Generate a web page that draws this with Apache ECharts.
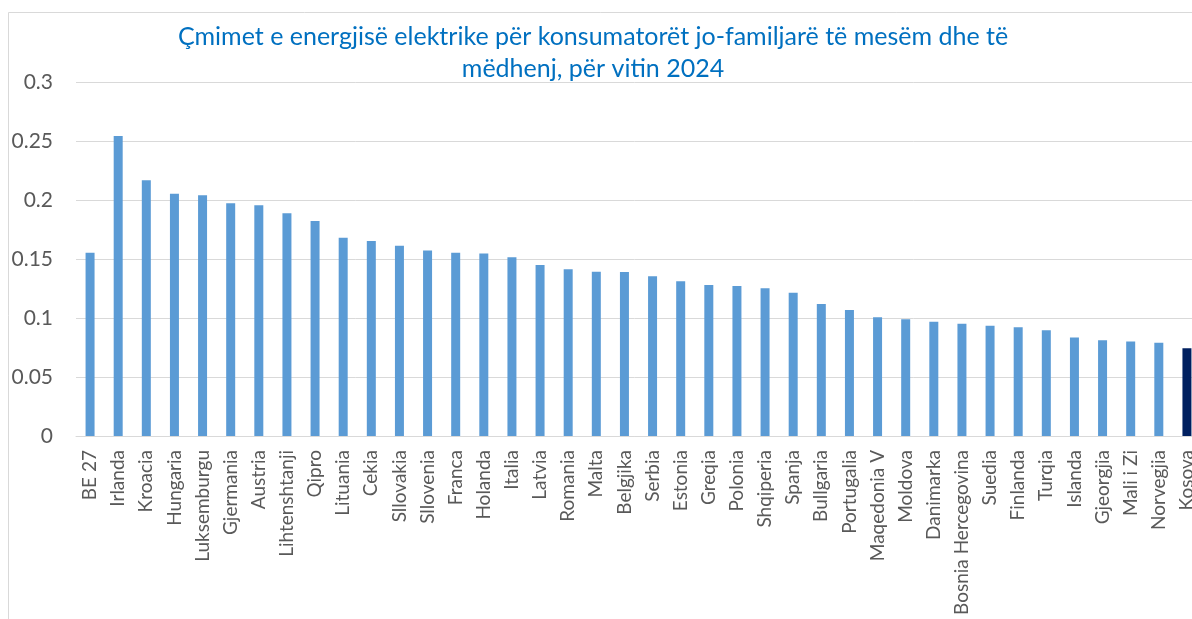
<!DOCTYPE html>
<html>
<head>
<meta charset="utf-8">
<script src="https://cdn.jsdelivr.net/npm/echarts@6/dist/echarts.min.js"></script>
<style>
html,body{margin:0;padding:0;background:#fff;}
#chart{width:1192px;height:619px;}
</style>
</head>
<body>
<div id="chart"></div>
<script>
const titleText = "Çmimet e energjisë elektrike për konsumatorët jo-familjarë të mesëm dhe të\nmëdhenj, për vitin 2024";
const categories = ["BE 27","Irlanda","Kroacia","Hungaria","Luksemburgu","Gjermania","Austria","Lihtenshtanji","Qipro","Lituania","Cekia","Sllovakia","Sllovenia","Franca","Holanda","Italia","Latvia","Romania","Malta","Belgjika","Serbia","Estonia","Greqia","Polonia","Shqiperia","Spanja","Bullgaria","Portugalia","Maqedonia V","Moldova","Danimarka","Bosnia Hercegovina","Suedia","Finlanda","Turqia","Islanda","Gjeorgjia","Mali i Zi","Norvegjia","Kosova"];
const values = [0.1554,0.2542,0.2167,0.2054,0.204,0.1972,0.1955,0.1887,0.1822,0.1681,0.1653,0.1613,0.1571,0.1554,0.1546,0.1514,0.1449,0.1413,0.1393,0.139,0.1353,0.1311,0.128,0.1271,0.1252,0.1215,0.1119,0.1068,0.1006,0.0989,0.0969,0.0952,0.0935,0.0921,0.0896,0.0834,0.0811,0.08,0.0791,0.0743];
const highlight = "Kosova";
const yTicks = [0, 0.05, 0.1, 0.15, 0.2, 0.25, 0.3];

const chart = echarts.init(document.getElementById('chart'));
chart.setOption({
  animation: false,
  backgroundColor: '#fff',
  graphic: [
    {type:'line', shape:{x1:8.5,y1:12.5,x2:1192,y2:12.5}, style:{stroke:'#D9D9D9',lineWidth:1}},
    {type:'line', shape:{x1:8.5,y1:12.5,x2:8.5,y2:619}, style:{stroke:'#D9D9D9',lineWidth:1}},
    {type:'text', x: 593, y: 21, style:{text:titleText, fill:'#0070C0', font:'25px Lato', textAlign:'center', lineHeight:32}}
  ],
  grid: {left: 76, top: 82, height: 354, width: 1125, containLabel: false, outerBoundsMode: 'none'},
  xAxis: {
    type: 'category',
    data: categories,
    axisLine: {show:true, lineStyle:{color:'#D9D9D9', width:1}},
    axisTick: {show:false},
    axisLabel: {rotate: 90, interval: 0, margin: 14, color:'#595959', fontSize: 19, fontFamily:'Lato', hideOverlap: false}
  },
  yAxis: {
    type: 'value',
    min: 0, max: 0.3, interval: 0.05,
    axisLine: {show:false},
    axisTick: {show:false},
    splitLine: {lineStyle:{color:'#D9D9D9', width:1}},
    axisLabel: {margin: 23, color:'#595959', fontSize: 21, fontFamily:'Lato',
      formatter: v => { const t = yTicks.find(x => Math.abs(x - v) < 1e-9); return String(t !== undefined ? t : v); }}
  },
  series: [{
    type: 'bar',
    barWidth: 9,
    data: values.map((v, i) => ({value: v, itemStyle: {color: categories[i] === highlight ? '#002060' : '#5B9BD5'}}))
  }]
});
</script>
</body>
</html>
